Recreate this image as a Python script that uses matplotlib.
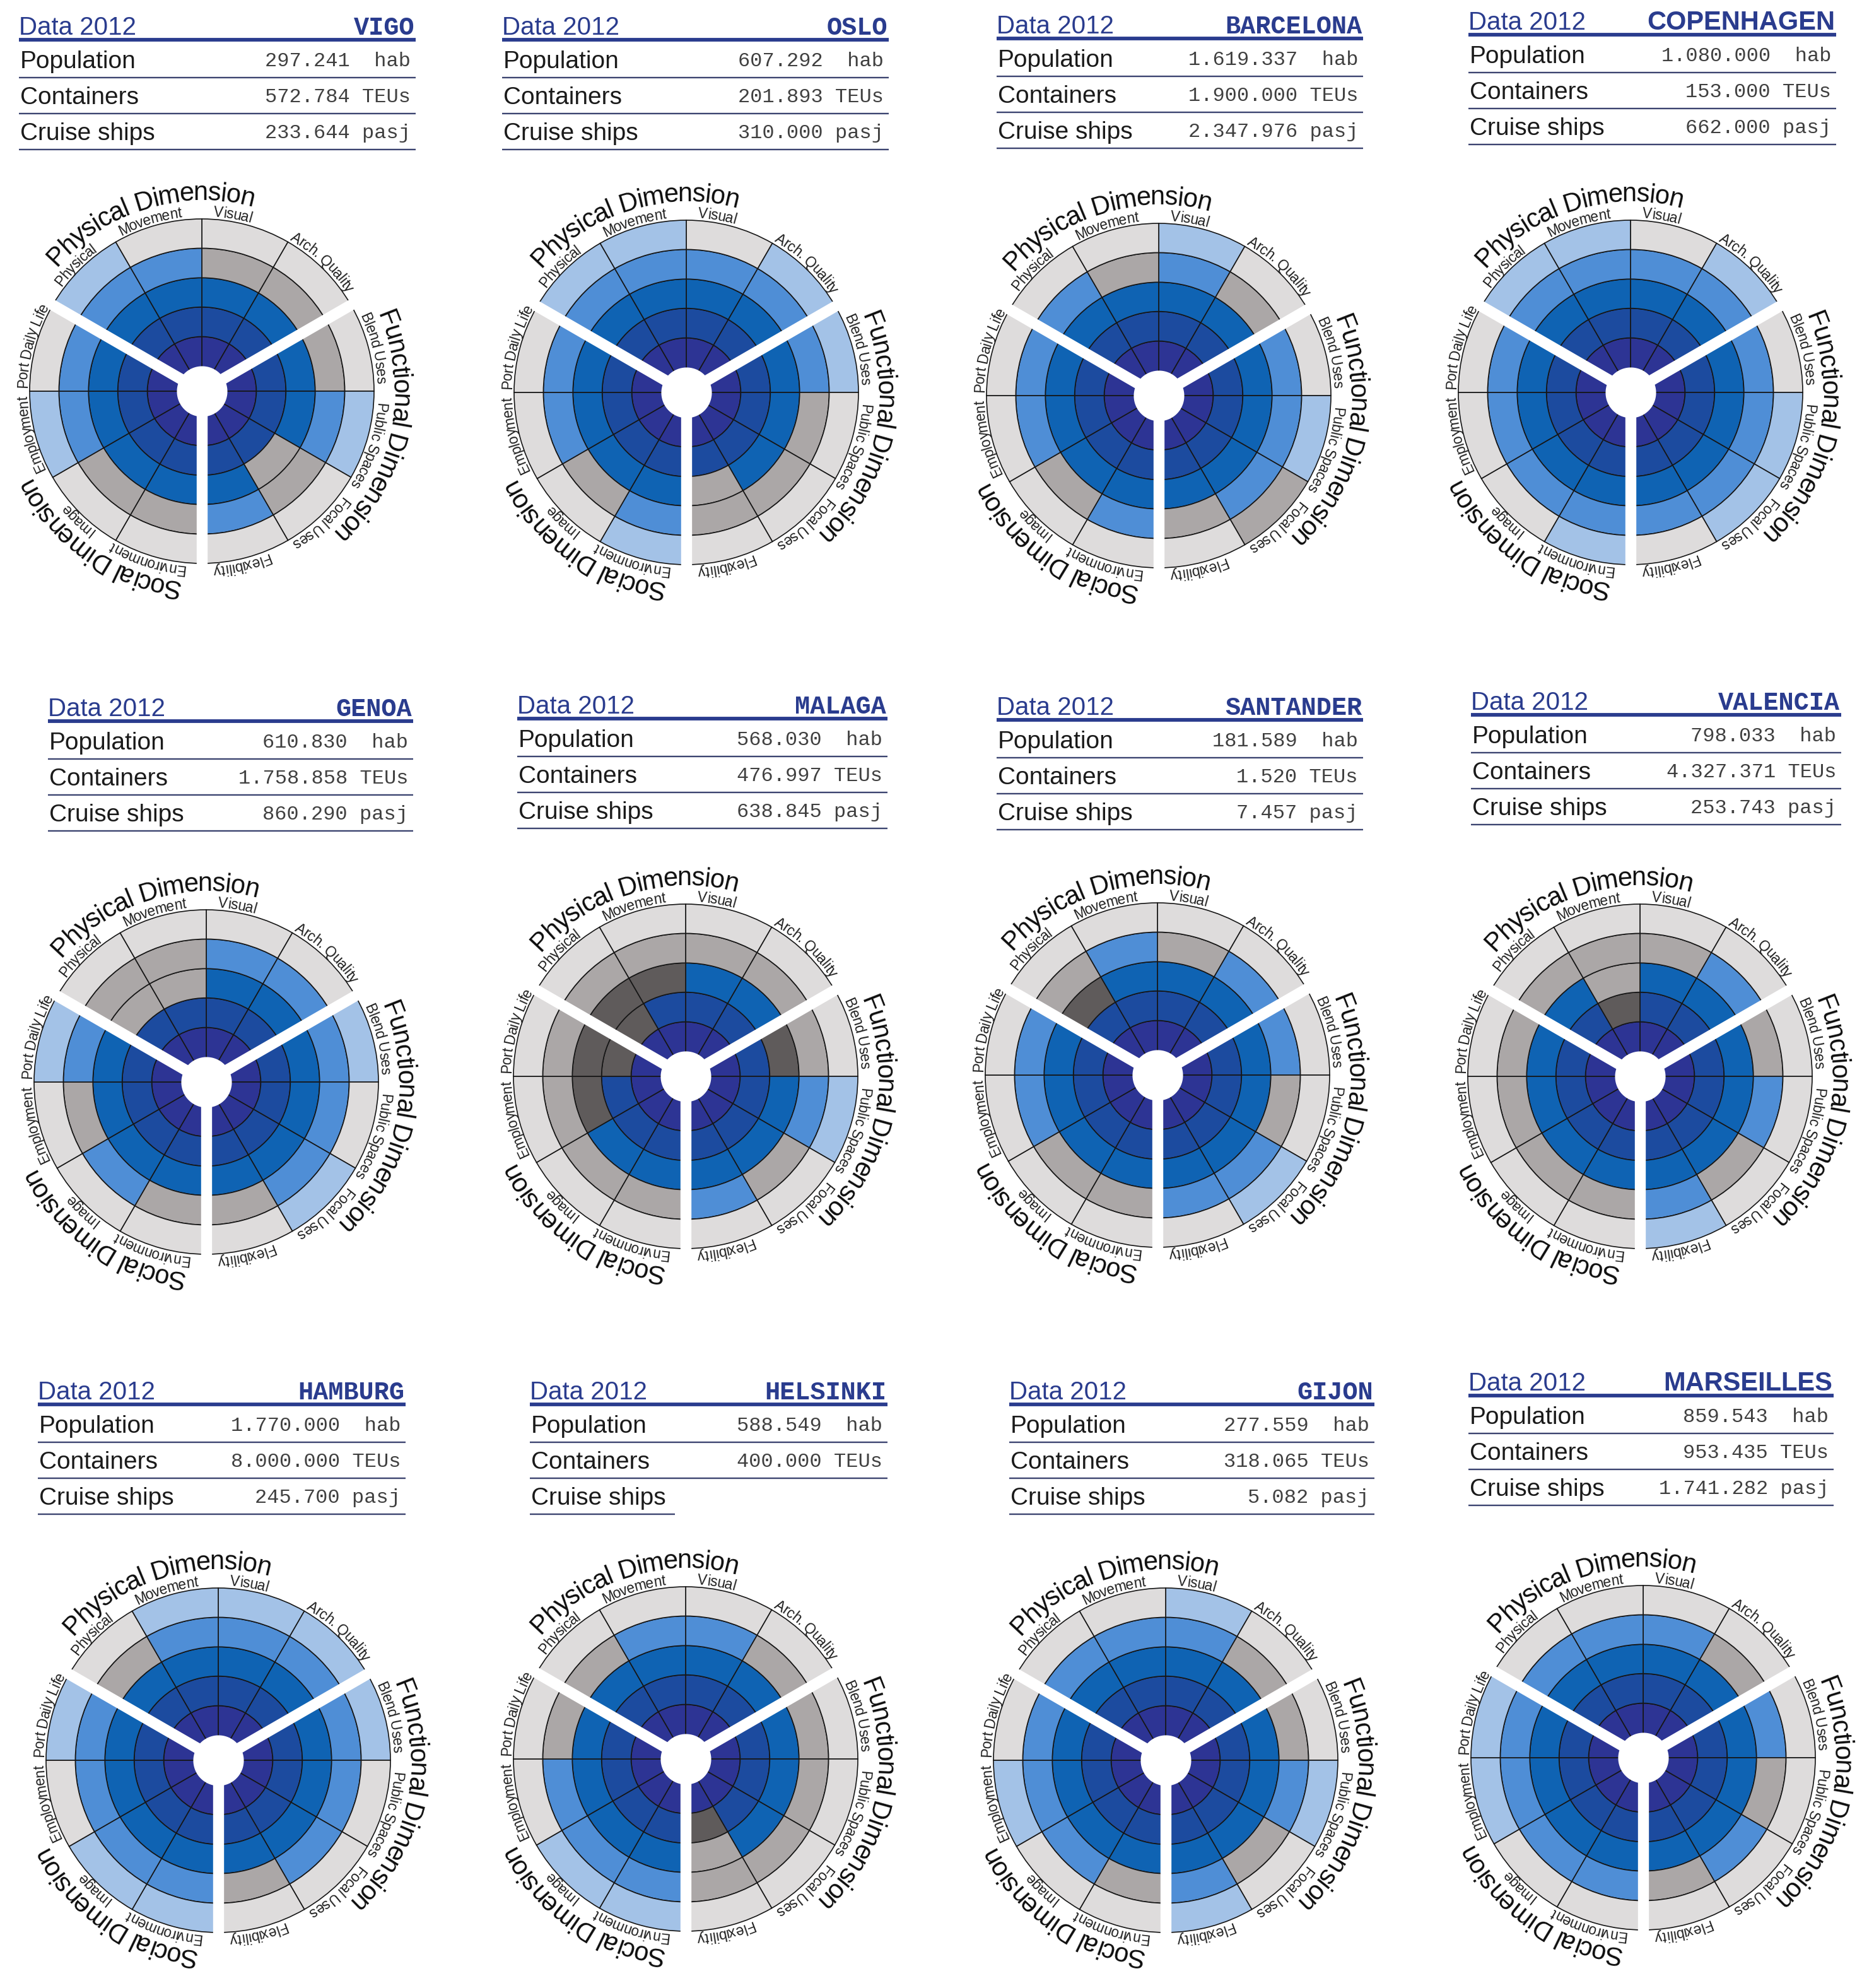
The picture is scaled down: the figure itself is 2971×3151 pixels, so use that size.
import matplotlib
matplotlib.use('Agg')
import matplotlib.pyplot as plt
import numpy as np
from matplotlib.font_manager import FontProperties, findfont, get_font

W, H, DPI = 2971, 3151, 100

cities = ['VIGO', 'OSLO', 'BARCELONA', 'COPENHAGEN', 'GENOA', 'MALAGA',
          'SANTANDER', 'VALENCIA', 'HAMBURG', 'HELSINKI', 'GIJON', 'MARSEILLES']
population = ['297.241', '607.292', '1.619.337', '1.080.000', '610.830', '568.030',
              '181.589', '798.033', '1.770.000', '588.549', '277.559', '859.543']
containers = ['572.784', '201.893', '1.900.000', '153.000', '1.758.858', '476.997',
              '1.520', '4.327.371', '8.000.000', '400.000', '318.065', '953.435']
cruise = ['233.644', '310.000', '2.347.976', '662.000', '860.290', '638.845',
          '7.457', '253.743', '245.700', '', '5.082', '1.741.282']
row_labels = ['Population', 'Containers', 'Cruise ships']
units = ['hab', 'TEUs', 'pasj']

# clockwise from the top
criteria = ['Visual', 'Arch. Quality', 'Blend Uses', 'Public Spaces', 'Focal Uses',
            'Flexibility', 'Environment', 'Image', 'Employment', 'Port Daily Life',
            'Physical', 'Movement']
dimensions = ['Physical Dimension', 'Functional Dimension', 'Social Dimension']

# ring state per criterion, inner ring -> outer ring
# B reached (blue), G gray, D dark gray, L light gray
ratings = [
    'BBBGL BBBGL BBBGL BBBBB BBGGL BBBBL BBBGL BBBGL BBBBB BBBBL BBBBB BBBBL',  # vigo
    'BBBBL BBBBB BBBBB BBBGL BBBGL BBGGL BBBBB BBBGL BBBBL BBBBL BBBBB BBBBB',  # oslo
    'BBBBB BBBGL BBBBL BBBBB BBBBG BBBGL BBBBL BBBGL BBBBL BBBBL BBBBL BBBGL',  # barcelona
    'BBBBL BBBBB BBBBL BBBBB BBBBB BBBBL BBBBB BBBBL BBBBL BBBBL BBBBB BBBBB',  # copenhagen
    'BBBBL BBBBL BBBBB BBBBL BBBBB BBBGL BBBGL BBBBL BBBGL BBBBB BBGGL BBGGL',  # genoa
    'BBBGL BBBGL BBDGL BBBBB BBBGL BBBBL BBBGL BBBGL BBDGL BDDGL BDDGL BBDGL',  # malaga
    'BBBGL BBBBL BBBBL BBBGL BBBBB BBBBL BBBGL BBBGL BBBBL BBBBL BBDGL BBBBL',  # santander
    'BBBGL BBBBL BBBGL BBBBL BBBGL BBBBB BBBGL BBBGL BBBGL BBBGL BBBGL BDGGL',  # valencia
    'BBBBB BBBBB BBBBB BBBBL BBBBL BBBGL BBBBB BBBBB BBBBL BBBBB BBBGL BBBBB',  # hamburg
    'BBBBL BBBGL BBBGL BBBGL BBBGL BDGGL BBBBB BBBBB BBBBL BBBGL BBBGL BBBBL',  # helsinki
    'BBBBB BBBGL BBBGL BBBBB BBBGL BBBBB BBBGL BBBBL BBBBB BBBBL BBBBL BBBBL',  # gijon
    'BBBBL BBBGL BBBBL BBBGL BBBBL BBBGL BBBBL BBBBL BBBBB BBBBB BBBBL BBBBL',  # marseilles
]

# ---- layout / style ----
UNIT = 45.5          # px per ring unit
RLIM = 7.9
EDGES = [0.0, 1.9, 2.93, 3.95, 4.98, 6.0]
HOLE = 0.88
BLUES = ['#2D3494', '#1C4B9F', '#0F63B3', '#4F8ED6', '#A3C2E7']
GRAYS = {'G': '#ABA7A7', 'D': '#5F5B5B', 'L': '#DEDCDC'}
NAVY = '#2A3C8E'

centers = [(320, 620), (1088, 622), (1837, 627), (2585, 622),
           (327, 1715), (1087, 1706), (1835, 1704), (2600, 1706),
           (346, 2790), (1087, 2788), (1848, 2790), (2605, 2786)]
tables = [(30, 659, 40), (796, 1409, 40), (1580, 2161, 38), (2328, 2911, 32),
          (76, 655, 1120), (820, 1407, 1116), (1580, 2161, 1118), (2332, 2919, 1110),
          (60, 643, 2203), (840, 1407, 2203), (1600, 2179, 2203), (2328, 2907, 2189)]
mono_name = [True, True, True, False, True, True, True, True, True, True, True, False]

label_angles = [80, 47, 14, -18, -48, -77, 252, 226, 194, 165, 135, 107]
dim_angles = [107, -12, 235]
gap_angles = [30, 150, 270]

SANS = 'Liberation Sans'
MONO = 'Liberation Mono'


def arc_text(ax, text, theta_deg, r, size, color, track=1.0):
    prop = FontProperties(family=SANS, size=size)
    font = get_font(findfont(prop))
    font.set_size(size, DPI)
    advs = [track * font.load_char(ord(ch)).linearHoriAdvance / 65536 for ch in text]
    radius_px = r * UNIT
    s = -sum(advs) / 2
    th_c = np.radians(theta_deg)
    for ch, a in zip(text, advs):
        th = th_c - (s + a / 2) / radius_px
        if ch != ' ':
            ax.text(th, r, ch, rotation=np.degrees(th) - 90, rotation_mode='anchor',
                    ha='center', va='baseline', fontproperties=prop, color=color,
                    zorder=6)
        s += a


fig = plt.figure(figsize=(W / DPI, H / DPI), dpi=DPI)
ax0 = fig.add_axes([0, 0, 1, 1])
ax0.set_xlim(0, W)
ax0.set_ylim(H, 0)
ax0.axis('off')

values = [population, containers, cruise]

for i, city in enumerate(cities):
    # ---- table ----
    left, right, hy = tables[i]
    ax0.text(left, hy + 15, 'Data 2012', ha='left', va='baseline', family=SANS,
             fontsize=29, color=NAVY)
    if mono_name[i]:
        ax0.text(right - 2, hy + 15, city, ha='right', va='baseline', family=MONO,
                 fontweight='bold', fontsize=29, color=NAVY)
    else:
        ax0.text(right - 2, hy + 15, city, ha='right', va='baseline', family=SANS,
                 fontweight='bold', fontsize=30, color=NAVY)
    ax0.plot([left, right], [hy + 23, hy + 23], color=NAVY, lw=4.2,
             solid_capstyle='butt')
    for k in range(3):
        yc = hy + 55 + 57 * k
        ax0.text(left + 2, yc + 13, row_labels[k], ha='left', va='baseline',
                 family=SANS, fontsize=28, color='#1a1a1a')
        v = values[k][i]
        if v:
            ax0.text(right - 8, yc + 10, f'{v} {units[k]:>4}', ha='right',
                     va='baseline', family=MONO, fontsize=23, color='#404040')
        x_end = right if v else left + 230
        ax0.plot([left, x_end], [yc + 28, yc + 28], color='#3C4470', lw=1.7,
                 solid_capstyle='butt')

    # ---- rose chart ----
    cx, cy = centers[i]
    R = RLIM * UNIT
    pax = fig.add_axes([(cx - R) / W, (H - cy - R) / H, 2 * R / W, 2 * R / H],
                       projection='polar')
    pax.set_ylim(0, RLIM)
    pax.set_axis_off()

    states = ratings[i].split()
    thetas = np.radians([75 - 30 * s for s in range(12)])
    for j in range(5):
        cols = [BLUES[j] if st[j] == 'B' else GRAYS[st[j]] for st in states]
        pax.bar(thetas, EDGES[j + 1] - EDGES[j], width=np.radians(30),
                bottom=EDGES[j], color=cols, edgecolor='#161616', linewidth=1.2,
                zorder=2)
    for g in gap_angles:
        pax.plot([np.radians(g)] * 2, [0, 6.2], color='white', lw=12.5,
                 solid_capstyle='butt', zorder=3)
    tt = np.linspace(0, 2 * np.pi, 200)
    pax.fill_between(tt, 0, HOLE, color='white', zorder=4, lw=0)

    for name, ang in zip(criteria, label_angles):
        arc_text(pax, name, ang, 6.09, 16.5, '#1e1e1e', track=0.95)
    for name, ang in zip(dimensions, dim_angles):
        arc_text(pax, name, ang, 6.65, 30, '#0d0d0d', track=0.94)

fig.savefig('out.png', dpi=DPI, facecolor='white')
